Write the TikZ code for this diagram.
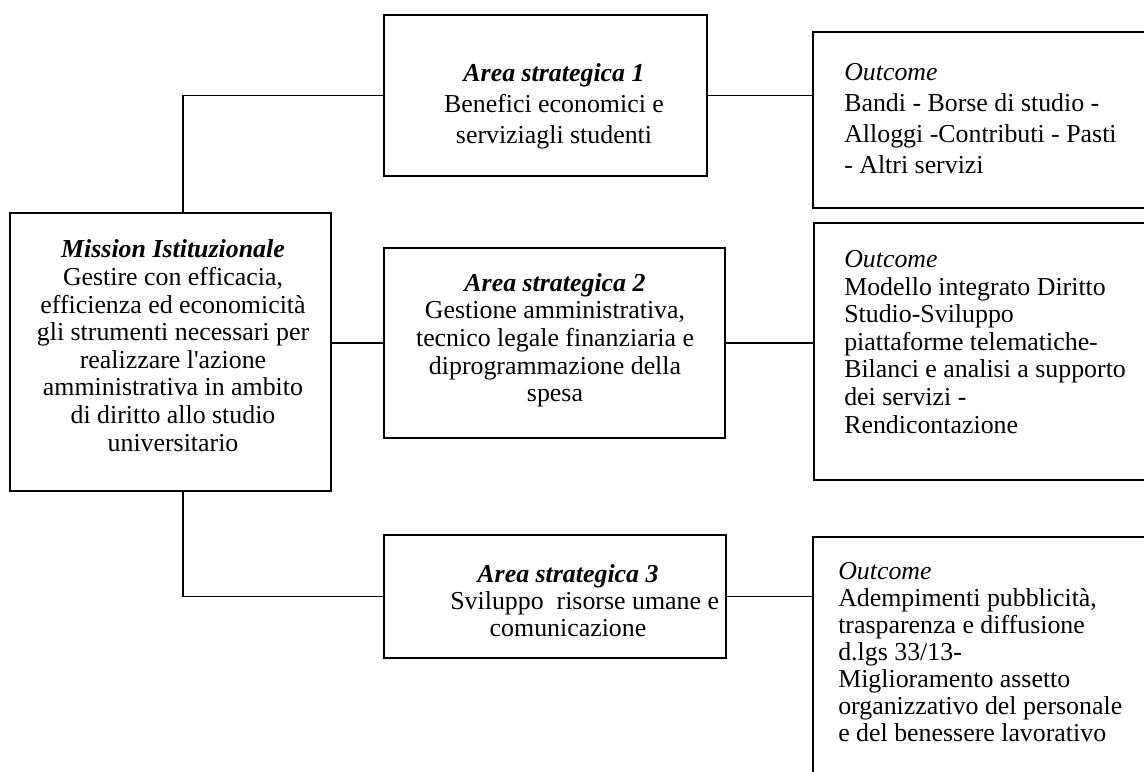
\documentclass[tikz,border=0pt]{standalone}
\usepackage{fontspec}
\setmainfont{Liberation Serif}
\usetikzlibrary{fit}
\tikzset{
  box/.style={draw=black, line width=1.4pt, inner sep=0pt, rectangle},
  conn/.style={draw=black, line width=1.4pt},
  ctext/.style={inner sep=0pt, anchor=base, align=center, font=\fontsize{19.4}{20.7}\selectfont},
  ctextb/.style={inner sep=0pt, anchor=base, align=center, font=\fontsize{19.4}{20.25}\selectfont},
  ctexttop/.style={inner sep=0pt, anchor=base, align=center, font=\fontsize{19.4}{23.25}\selectfont},
  ltext/.style={inner sep=0pt, anchor=base west, align=left, font=\fontsize{19.4}{20.7}\selectfont},
  ltextb/.style={inner sep=0pt, anchor=base west, align=left, font=\fontsize{19.4}{20.25}\selectfont},
  ltexttop/.style={inner sep=0pt, anchor=base west, align=left, font=\fontsize{19.4}{23.25}\selectfont},
}
\newcommand{\ttl}[1]{\textbf{\textit{#1}}}
\begin{document}
\begin{tikzpicture}[x=0.75pt, y=-0.75pt]
\useasboundingbox (0,0) rectangle (1144,771);
\clip (0,0) rectangle (1144,771);
\fill[white] (0,0) rectangle (1144,771);

% boxes
\node[box, fit={(10,213) (331,491)}] (m) {};
\node[box, fit={(384,15) (707,176)}] (a1) {};
\node[box, fit={(384,248) (725,438)}] (a2) {};
\node[box, fit={(384,535) (726,658)}] (a3) {};
\node[box, fit={(813,32) (1170,208)}] (o1) {};
\node[box, fit={(814,223) (1170,480)}] (o2) {};
\node[box, fit={(813,537) (1170,800)}] (o3) {};

\coordinate (j) at (183,0);

% connectors
\draw[conn] (m.north -| j) |- (a1.west);
\draw[conn] (a1.east) -- (a1.east -| o1.west);
\draw[conn] (a2.west -| m.east) -- (a2.west);
\draw[conn] (a2.east) -- (a2.east -| o2.west);
\draw[conn] (m.south -| j) |- (a3.west);
\draw[conn] (a3.east) -- (a3.east -| o3.west);

% texts (anchor = baseline of last line)
\node[ctext] (mt) at (173,451) {\ttl{Mission Istituzionale}\\Gestire con efficacia,\\efficienza ed economicità\\gli strumenti necessari per\\realizzare l\textquotesingle azione\\amministrativa in ambito\\di diritto allo studio\\universitario};
\node[ctexttop] (a1t) at (554,143) {\ttl{Area strategica 1}\\Benefici economici e\\serviziagli studenti};
\node[ctext] (a2t) at (555,401.7) {\ttl{Area strategica 2}\\Gestione amministrativa,\\tecnico legale finanziaria e\\diprogrammazione della\\spesa};
\node[ctextb] (a3t) at (568,636) {\ttl{Area strategica 3}\\\hspace*{25pt}Sviluppo\ \ risorse umane e\\comunicazione};
\node[ltexttop] (o1t) at (844,173) {\textit{Outcome}\\Bandi - Borse di studio -\\Alloggi -Contributi - Pasti\\- Altri servizi};
\node[ltext] (o2t) at (844,433) {\textit{Outcome}\\Modello integrato Diritto\\Studio-Sviluppo\\piattaforme telematiche-\\Bilanci e analisi a supporto\\dei servizi -\\Rendicontazione};
\node[ltextb] (o3t) at (838,741.7) {\textit{Outcome}\\Adempimenti pubblicità,\\trasparenza e diffusione\\d.lgs 33/13-\\Miglioramento assetto\\organizzativo del personale\\e del benessere lavorativo};
\end{tikzpicture}
\end{document}
